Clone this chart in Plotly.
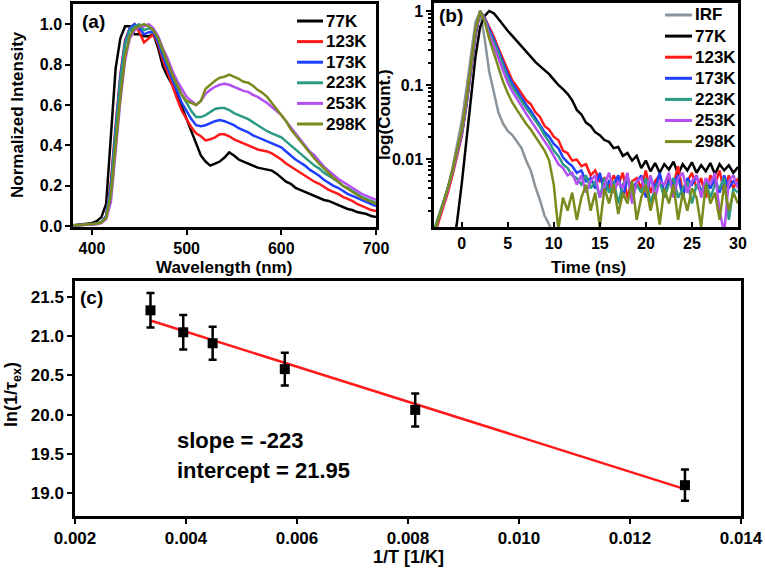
import plotly.graph_objects as go

# ---------------- Panel (a): PL spectra ----------------
wavelength = [380, 385, 390, 395, 400, 405, 410, 415, 420, 425, 430, 435, 440, 445, 450, 455,
              460, 465, 470, 475, 480, 485, 490, 495, 500, 505, 510, 515, 520, 525, 530, 535,
              540, 545, 550, 555, 560, 565, 570, 575, 580, 585, 590, 595, 600, 605, 610, 615,
              620, 625, 630, 635, 640, 645, 650, 655, 660, 665, 670, 675, 680, 685, 690, 695, 700]

spec_77K = [0.005, 0.007, 0.010, 0.012, 0.015, 0.025, 0.045, 0.11, 0.45, 0.78, 0.93, 0.99, 0.99, 0.95, 0.95, 0.94,
            0.94, 0.95, 0.88, 0.79, 0.74, 0.70, 0.65, 0.59, 0.52, 0.46, 0.40, 0.35, 0.32, 0.30, 0.31, 0.32,
            0.34, 0.365, 0.35, 0.33, 0.32, 0.31, 0.30, 0.29, 0.285, 0.28, 0.275, 0.26, 0.24, 0.22, 0.21, 0.19,
            0.18, 0.17, 0.16, 0.15, 0.14, 0.13, 0.125, 0.115, 0.105, 0.095, 0.085, 0.08, 0.07, 0.065, 0.06, 0.05, 0.045]
spec_123K = [0.004, 0.005, 0.006, 0.008, 0.010, 0.013, 0.020, 0.05, 0.22, 0.50, 0.75, 0.92, 0.98, 1.0, 0.96, 0.91,
             0.93, 0.95, 0.90, 0.82, 0.76, 0.69, 0.63, 0.57, 0.53, 0.49, 0.46, 0.445, 0.425, 0.43, 0.44, 0.455,
             0.455, 0.445, 0.43, 0.42, 0.41, 0.40, 0.39, 0.38, 0.375, 0.37, 0.36, 0.345, 0.33, 0.31, 0.295, 0.28,
             0.265, 0.25, 0.235, 0.22, 0.21, 0.195, 0.18, 0.17, 0.16, 0.145, 0.135, 0.125, 0.11, 0.10, 0.09, 0.08, 0.075]
spec_173K = [0.004, 0.005, 0.006, 0.008, 0.010, 0.013, 0.020, 0.05, 0.20, 0.48, 0.74, 0.91, 0.98, 1.0, 0.98, 0.95,
             0.96, 0.96, 0.91, 0.84, 0.78, 0.72, 0.66, 0.61, 0.57, 0.53, 0.50, 0.495, 0.50, 0.51, 0.52, 0.525,
             0.52, 0.51, 0.50, 0.485, 0.475, 0.465, 0.45, 0.44, 0.43, 0.42, 0.41, 0.40, 0.39, 0.37, 0.35, 0.33,
             0.315, 0.30, 0.28, 0.265, 0.25, 0.23, 0.215, 0.20, 0.19, 0.175, 0.16, 0.15, 0.14, 0.13, 0.12, 0.11, 0.10]
spec_223K = [0.004, 0.005, 0.006, 0.008, 0.010, 0.013, 0.020, 0.045, 0.18, 0.46, 0.72, 0.90, 0.97, 0.99, 1.0, 0.97,
             0.98, 0.97, 0.93, 0.86, 0.80, 0.74, 0.69, 0.65, 0.61, 0.57, 0.54, 0.54, 0.55, 0.565, 0.58, 0.585,
             0.585, 0.575, 0.56, 0.55, 0.54, 0.53, 0.515, 0.50, 0.485, 0.47, 0.46, 0.45, 0.44, 0.42, 0.40, 0.38,
             0.36, 0.34, 0.32, 0.30, 0.285, 0.265, 0.25, 0.235, 0.22, 0.20, 0.19, 0.175, 0.16, 0.145, 0.135, 0.125, 0.115]
spec_253K = [0.003, 0.004, 0.005, 0.006, 0.008, 0.010, 0.015, 0.035, 0.12, 0.38, 0.62, 0.82, 0.93, 0.97, 0.99, 0.99,
             1.0, 0.98, 0.94, 0.88, 0.83, 0.77, 0.72, 0.68, 0.64, 0.62, 0.60, 0.62, 0.655, 0.675, 0.69, 0.70,
             0.705, 0.70, 0.69, 0.68, 0.67, 0.665, 0.65, 0.64, 0.625, 0.61, 0.59, 0.57, 0.55, 0.52, 0.49, 0.46,
             0.43, 0.40, 0.37, 0.35, 0.32, 0.295, 0.275, 0.255, 0.235, 0.22, 0.205, 0.19, 0.175, 0.16, 0.15, 0.14, 0.13]
spec_298K = [0.004, 0.005, 0.006, 0.008, 0.010, 0.012, 0.018, 0.04, 0.15, 0.40, 0.64, 0.84, 0.94, 0.98, 0.99, 1.0,
             0.99, 0.97, 0.93, 0.87, 0.80, 0.75, 0.70, 0.65, 0.62, 0.61, 0.60, 0.62, 0.68, 0.70, 0.72, 0.735,
             0.74, 0.75, 0.74, 0.73, 0.715, 0.71, 0.695, 0.675, 0.66, 0.64, 0.61, 0.58, 0.55, 0.52, 0.48, 0.45,
             0.42, 0.39, 0.36, 0.335, 0.31, 0.285, 0.26, 0.24, 0.22, 0.20, 0.185, 0.17, 0.155, 0.14, 0.13, 0.12, 0.11]

# ---------------- Panel (b): decays ----------------
time_ns = [-3, -2.5, -2, -1.5, -1, -0.5, 0, 0.5, 1, 1.5, 2, 2.5, 3, 3.5, 4, 4.5, 5, 5.5, 6, 6.5,
           7, 7.5, 8, 8.5, 9, 9.5, 10, 10.5, 11, 11.5, 12, 12.5, 13, 13.5, 14, 14.5, 15, 15.5, 16, 16.5,
           17, 17.5, 18, 18.5, 19, 19.5, 20, 20.5, 21, 21.5, 22, 22.5, 23, 23.5, 24, 24.5, 25, 25.5, 26, 26.5,
           27, 27.5, 28, 28.5, 29, 29.5, 30]

dec_IRF = [0.0009, 0.0015, 0.0024, 0.004, 0.0075, 0.015, 0.032, 0.085, 0.25, 0.7, 0.98, 0.42, 0.15, 0.075, 0.042, 0.03, 0.024, 0.021, 0.017, 0.014,
           0.0095, 0.007, 0.0042, 0.0028, 0.0017, 0.0013, 0.0009, 0.0005, 0.0005, 0.0005, 0.0005, 0.0005, 0.0005, 0.0005, 0.0005, 0.0005, 0.0005, 0.0005, 0.0005, 0.0005,
           0.0005, 0.0005, 0.0005, 0.0005, 0.0005, 0.0005, 0.0005, 0.0005, 0.0005, 0.0005, 0.0005, 0.0005, 0.0005, 0.0005, 0.0005, 0.0005, 0.0005, 0.0005, 0.0005, 0.0005,
           0.0005, 0.0005, 0.0005, 0.0005, 0.0005, 0.0005, 0.0005]
dec_77K = [0.0005, 0.0005, 0.0005, 0.0005, 0.0006, 0.0014, 0.0045, 0.017, 0.07, 0.24, 0.6, 0.86, 1.0, 0.93, 0.78, 0.64, 0.54, 0.46, 0.39, 0.33,
           0.28, 0.235, 0.205, 0.18, 0.158, 0.14, 0.118, 0.1, 0.088, 0.076, 0.062, 0.046, 0.04, 0.031, 0.028, 0.023, 0.021, 0.018, 0.017, 0.014,
           0.0145, 0.011, 0.012, 0.0095, 0.011, 0.0075, 0.0095, 0.0068, 0.0088, 0.0065, 0.0085, 0.0072, 0.0092, 0.0062, 0.0085, 0.007, 0.009, 0.0065, 0.0082, 0.0068,
           0.0088, 0.0062, 0.0085, 0.007, 0.0082, 0.0065, 0.0078]
dec_123K = [0.0009, 0.0014, 0.0022, 0.0035, 0.006, 0.011, 0.02, 0.05, 0.15, 0.45, 0.97, 0.82, 0.6, 0.45, 0.31, 0.22, 0.16, 0.115, 0.095, 0.078,
            0.062, 0.055, 0.043, 0.037, 0.028, 0.025, 0.02, 0.018, 0.013, 0.012, 0.0095, 0.0098, 0.008, 0.0085, 0.006, 0.007, 0.005, 0.0055, 0.004, 0.006,
            0.0045, 0.0065, 0.003, 0.005, 0.0055, 0.004, 0.007, 0.0035, 0.005, 0.006, 0.003, 0.0055, 0.0045, 0.008, 0.0035, 0.005, 0.0065, 0.004, 0.0055, 0.003,
            0.006, 0.0045, 0.007, 0.0035, 0.006, 0.004, 0.0055]
dec_173K = [0.001, 0.0016, 0.0025, 0.004, 0.0065, 0.012, 0.021, 0.052, 0.15, 0.47, 0.99, 0.8, 0.56, 0.41, 0.29, 0.2, 0.14, 0.105, 0.083, 0.068,
            0.054, 0.045, 0.036, 0.03, 0.023, 0.02, 0.016, 0.014, 0.0105, 0.009, 0.008, 0.0065, 0.007, 0.005, 0.0055, 0.004, 0.0065, 0.0035, 0.005, 0.0045,
            0.006, 0.003, 0.0055, 0.004, 0.005, 0.006, 0.003, 0.0055, 0.004, 0.0065, 0.0035, 0.005, 0.0045, 0.006, 0.003, 0.0055, 0.0045, 0.006, 0.0035, 0.005,
            0.004, 0.0055, 0.0035, 0.006, 0.004, 0.005, 0.0045]
dec_223K = [0.0011, 0.0017, 0.0026, 0.004, 0.0068, 0.012, 0.022, 0.055, 0.16, 0.5, 1.0, 0.78, 0.52, 0.38, 0.27, 0.18, 0.125, 0.095, 0.075, 0.061,
            0.049, 0.04, 0.032, 0.027, 0.021, 0.017, 0.013, 0.011, 0.0085, 0.0075, 0.006, 0.0055, 0.0045, 0.006, 0.004, 0.005, 0.003, 0.0055, 0.0035, 0.005,
            0.0025, 0.0045, 0.0055, 0.003, 0.0045, 0.0035, 0.0055, 0.0025, 0.004, 0.005, 0.003, 0.0045, 0.0055, 0.003, 0.004, 0.005, 0.0025, 0.0045, 0.0035, 0.005,
            0.003, 0.0045, 0.004, 0.0055, 0.0015, 0.004, 0.0035]
dec_253K = [0.001, 0.0015, 0.0024, 0.0038, 0.0065, 0.012, 0.022, 0.056, 0.17, 0.52, 1.0, 0.75, 0.48, 0.34, 0.23, 0.155, 0.108, 0.082, 0.064, 0.052,
            0.041, 0.033, 0.027, 0.022, 0.017, 0.014, 0.011, 0.0085, 0.0075, 0.006, 0.0065, 0.0045, 0.006, 0.0035, 0.005, 0.006, 0.003, 0.0045, 0.0065, 0.0035,
            0.005, 0.004, 0.0065, 0.0025, 0.005, 0.0055, 0.0035, 0.006, 0.003, 0.005, 0.0045, 0.0065, 0.003, 0.0055, 0.0065, 0.0035, 0.005, 0.006, 0.003, 0.0055,
            0.0045, 0.0065, 0.002, 0.001, 0.005, 0.006, 0.004]
dec_298K = [0.001, 0.0016, 0.0025, 0.004, 0.007, 0.013, 0.024, 0.06, 0.18, 0.55, 1.0, 0.72, 0.42, 0.27, 0.17, 0.11, 0.078, 0.058, 0.046, 0.037,
            0.03, 0.025, 0.02, 0.016, 0.013, 0.0095, 0.0045, 0.0011, 0.003, 0.002, 0.0035, 0.0015, 0.003, 0.0045, 0.002, 0.0035, 0.0012, 0.004, 0.0025, 0.0045,
            0.0018, 0.0035, 0.0025, 0.005, 0.0015, 0.003, 0.0045, 0.002, 0.0035, 0.0013, 0.004, 0.0025, 0.0045, 0.0015, 0.0035, 0.002, 0.004, 0.003, 0.0012, 0.0045,
            0.0025, 0.0035, 0.0015, 0.0045, 0.002, 0.0035, 0.0025]

# ---------------- Panel (c): Arrhenius-type plot ----------------
inv_T = [0.00336, 0.00395, 0.00448, 0.00578, 0.00813, 0.01299]
ln_rate = [21.33, 21.05, 20.91, 20.58, 20.06, 19.10]
ln_rate_err = [0.22, 0.22, 0.21, 0.21, 0.21, 0.20]
fit_x = [0.00336, 0.01299]
fit_y = [21.20, 19.05]

labels_a = ["77K", "123K", "173K", "223K", "253K", "298K"]
labels_b = ["IRF", "77K", "123K", "173K", "223K", "253K", "298K"]
colors = {"IRF": "#8a949a", "77K": "#000000", "123K": "#ff1a1a", "173K": "#1f3fff",
          "223K": "#2a9a84", "253K": "#b450f2", "298K": "#7a8a1c"}

spectra = [spec_77K, spec_123K, spec_173K, spec_223K, spec_253K, spec_298K]
decays = [dec_IRF, dec_77K, dec_123K, dec_173K, dec_223K, dec_253K, dec_298K]

BOLD = "Liberation Sans, Arial, sans-serif"

W, H = 765, 570
def px(x): return x / W
def py(y): return 1 - y / H

fig = go.Figure()

for lab, ys in zip(labels_a, spectra):
    fig.add_trace(go.Scatter(x=wavelength, y=ys, mode="lines", name=lab, showlegend=False,
                             line=dict(color=colors[lab], width=2.5), xaxis="x", yaxis="y"))

for lab, ys in zip(labels_b, decays):
    fig.add_trace(go.Scatter(x=time_ns, y=ys, mode="lines", name=lab, showlegend=False,
                             line=dict(color=colors[lab], width=2.5), xaxis="x2", yaxis="y2"))

fig.add_trace(go.Scatter(x=fit_x, y=fit_y, mode="lines", showlegend=False,
                         line=dict(color="#ff1a1a", width=2.5), xaxis="x3", yaxis="y3"))
fig.add_trace(go.Scatter(x=inv_T, y=ln_rate, mode="markers", showlegend=False,
                         marker=dict(symbol="square", size=10, color="black"),
                         error_y=dict(type="data", array=ln_rate_err, thickness=2.5, width=4, color="black"),
                         xaxis="x3", yaxis="y3"))

axis_common = dict(showline=True, linewidth=2.5, linecolor="black", mirror=True, automargin=False,
                   showgrid=False, zeroline=False, ticks="outside", ticklen=5, tickwidth=2,
                   tickcolor="black")
tf = dict(family=BOLD, size=16, color="black", weight="bold")
tfc = dict(family=BOLD, size=17, color="black", weight="bold")

fig.update_layout(
    width=W, height=H, margin=dict(l=0, r=0, t=0, b=0), showlegend=False,
    paper_bgcolor="white", plot_bgcolor="white",
    xaxis=dict(domain=[px(73), px(376)], range=[380, 700], tickvals=[400, 500, 600, 700],
               tickfont=tf, anchor="y", **axis_common),
    yaxis=dict(domain=[py(227), py(4)], range=[-0.004, 1.1], tickvals=[0, 0.2, 0.4, 0.6, 0.8, 1.0],
               tickformat=".1f", tickfont=tf, anchor="x", **axis_common),
    xaxis2=dict(domain=[px(434), px(738)], range=[-3, 30], tickvals=[0, 5, 10, 15, 20, 25, 30],
                tickfont=tf, anchor="y2", **{**axis_common, "ticks": "inside"}),
    yaxis2=dict(domain=[py(227), py(3)], type="log", range=[-2.92, 0.108],
                tickvals=[0.01, 0.1, 1], ticktext=["0.01", "0.1", "1"],
                minor=dict(ticks="outside", ticklen=3, tickwidth=1.5, tickcolor="black", dtick="D1"),
                tickfont=tf, anchor="x2", **axis_common),
    xaxis3=dict(domain=[px(75), px(741)], range=[0.002, 0.014], dtick=0.002, tick0=0.002,
                tickformat=".3f", tickfont=tfc, anchor="y3", **axis_common),
    yaxis3=dict(domain=[py(516), py(281)], range=[18.707, 21.704],
                tickvals=[19.0, 19.5, 20.0, 20.5, 21.0, 21.5], tickformat=".1f",
                tickfont=tfc, anchor="x3", **axis_common),
)

# legend keys (layout decoration)
shapes = []
annotations = []
leg_font = dict(family=BOLD, size=17, color="black", weight="bold")
for i, lab in enumerate(labels_a):
    yy = 21 + 20.6 * i
    shapes.append(dict(type="line", xref="paper", yref="paper", x0=px(297), x1=px(323),
                       y0=py(yy), y1=py(yy), line=dict(color=colors[lab], width=3)))
    annotations.append(dict(text=lab, x=px(324), y=py(yy), xanchor="left", yanchor="middle", font=leg_font))
for i, lab in enumerate(labels_b):
    yy = 15 + 21.1 * i
    shapes.append(dict(type="line", xref="paper", yref="paper", x0=px(665), x1=px(692),
                       y0=py(yy), y1=py(yy), line=dict(color=colors[lab], width=3)))
    annotations.append(dict(text=lab, x=px(693), y=py(yy), xanchor="left", yanchor="middle", font=leg_font))

ann_font = dict(family=BOLD, size=17, color="black", weight="bold")
annotations += [
    dict(text="(a)", x=px(80), y=py(21), xanchor="left", yanchor="middle", font=dict(family=BOLD, size=19, color="black", weight="bold")),
    dict(text="(b)", x=px(437), y=py(16), xanchor="left", yanchor="middle", font=dict(family=BOLD, size=19, color="black", weight="bold")),
    dict(text="(c)", x=px(78), y=py(297), xanchor="left", yanchor="middle", font=dict(family=BOLD, size=19, color="black", weight="bold")),
    dict(text="Wavelength (nm)", x=px(224), y=py(267), xanchor="center", yanchor="middle", font=ann_font),
    dict(text="Normalized Intensity", x=px(18), y=py(115), xanchor="center", yanchor="middle", textangle=-90, font=ann_font),
    dict(text="Time (ns)", x=px(588), y=py(267), xanchor="center", yanchor="middle", font=ann_font),
    dict(text="log(Count.)", x=px(385), y=py(115), xanchor="center", yanchor="middle", textangle=-90, font=ann_font),
    dict(text="1/T [1/K]", x=px(408), y=py(557), xanchor="center", yanchor="middle", font=dict(family=BOLD, size=18, color="black", weight="bold")),
    dict(text="ln(1/τ<sub>ex</sub>)", x=px(12), y=py(395), xanchor="center", yanchor="middle", textangle=-90,
         font=dict(family=BOLD, size=18, color="black", weight="bold")),
    dict(text="slope = -223", x=px(175), y=py(440), xanchor="left", yanchor="middle",
         font=dict(family=BOLD, size=22, color="black", weight="bold")),
    dict(text="intercept = 21.95", x=px(175), y=py(470), xanchor="left", yanchor="middle",
         font=dict(family=BOLD, size=22, color="black", weight="bold")),
]
for a in annotations:
    a.update(xref="paper", yref="paper", showarrow=False)
fig.update_layout(annotations=annotations, shapes=shapes)

# remove the default 8px page margin so the 765x570 figure fills the window exactly
fig.write_html("out.html", config={"displayModeBar": False},
               post_script="document.body.style.margin='0';document.body.style.overflow='hidden';")
